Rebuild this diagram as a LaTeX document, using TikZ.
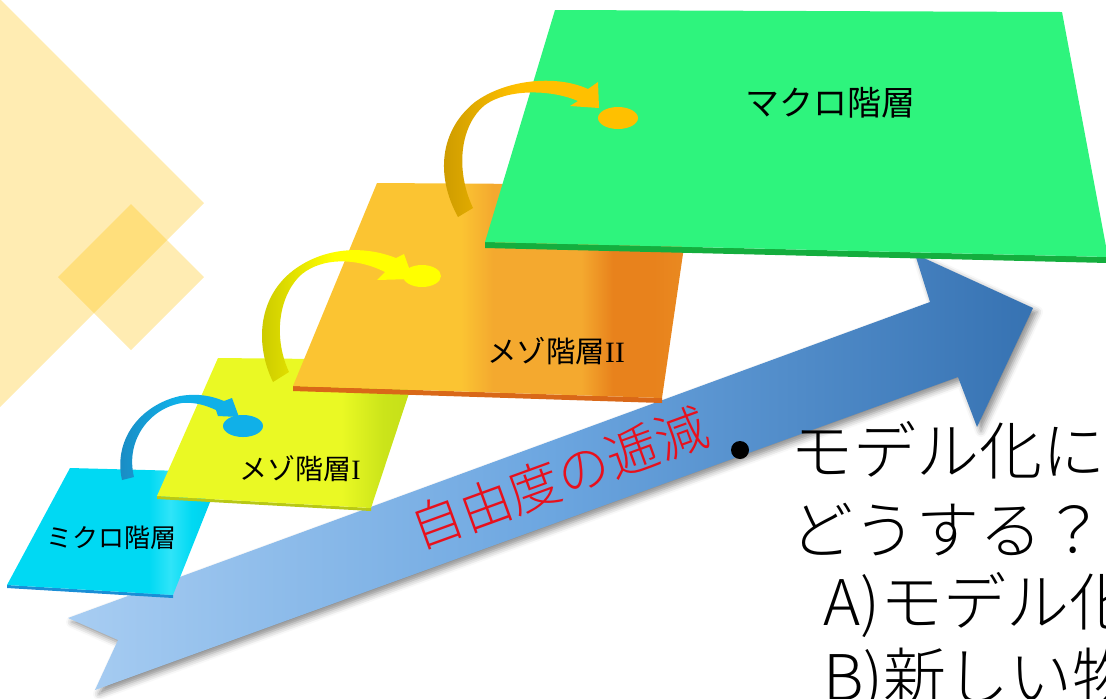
\documentclass[tikz,border=0pt]{standalone}
\usepackage{fontspec}
\usetikzlibrary{shadows.blur}
\newfontfamily\jp{Noto Sans CJK JP}
\IfFontExistsTF{Noto Sans CJK JP Light}
  {\newfontfamily\jpthin{Noto Sans CJK JP Light}}
  {\newfontfamily\jpthin{Noto Sans CJK JP}}
\newfontfamily\romI{Liberation Serif}
\definecolor{diamond}{HTML}{FFC000}
\definecolor{arrowleft}{HTML}{A8CDF2}
\definecolor{arrowmid}{HTML}{6CA6E0}
\definecolor{arrowright}{HTML}{3672B2}
\definecolor{macro}{HTML}{2EF47D}
\definecolor{macroedge}{HTML}{14AE3E}
\definecolor{mesoIIa}{HTML}{FBC432}
\definecolor{mesoIIb}{HTML}{F4A92F}
\definecolor{mesoIIc}{HTML}{E8821C}
\definecolor{mesoIId}{HTML}{EA8C22}
\definecolor{mesoIIedge}{HTML}{D96818}
\definecolor{mesoIa}{HTML}{EAF924}
\definecolor{mesoIb}{HTML}{CBE41A}
\definecolor{mesoIc}{HTML}{C4DE17}
\definecolor{mesoIedge}{HTML}{B8C816}
\definecolor{microa}{HTML}{00D9F3}
\definecolor{microb}{HTML}{30E4F8}
\definecolor{microc}{HTML}{00CCEA}
\definecolor{microedge}{HTML}{1A8ED6}
\definecolor{bluehead}{HTML}{10B0E8}
\definecolor{bluetail}{HTML}{1B88C0}
\definecolor{yellowhead}{HTML}{FFFF00}
\definecolor{yellowtail}{HTML}{C8C600}
\definecolor{goldhead}{HTML}{FFC000}
\definecolor{goldtail}{HTML}{C89800}
\definecolor{redtext}{HTML}{E8101C}
\pgfdeclarehorizontalshading{mesoIIshade}{100bp}{color(0bp)=(mesoIIa); color(25bp)=(mesoIIa);
  color(46bp)=(mesoIIa); color(50bp)=(mesoIIb); color(61bp)=(mesoIIb); color(65bp)=(mesoIIc);
  color(70bp)=(mesoIIc); color(75bp)=(mesoIId); color(100bp)=(mesoIId)}
\pgfdeclarehorizontalshading{mesoIshade}{100bp}{color(0bp)=(mesoIa); color(25bp)=(mesoIa);
  color(60bp)=(mesoIa); color(68bp)=(mesoIb); color(75bp)=(mesoIc); color(100bp)=(mesoIc)}
\pgfdeclarehorizontalshading{microshade}{100bp}{color(0bp)=(microa); color(25bp)=(microa);
  color(58bp)=(microa); color(63bp)=(microb); color(68bp)=(microa); color(75bp)=(microc);
  color(100bp)=(microc)}
\begin{document}
\begin{tikzpicture}[x=0.5pt,y=-0.5pt,
  lbl/.style={inner sep=0pt,text=black},
  body/.style={inner sep=0pt,anchor=west,font=\jpthin\fontsize{31.5pt}{31.5pt}\selectfont}]
\useasboundingbox (0,0) rectangle (1106,698);
\clip (0,0) rectangle (1106,698);
\fill[diamond,opacity=0.3] (0,-1) -- (204,203) -- (0,407) -- (-204,203) -- cycle;
\fill[diamond,opacity=0.3] (131,204) -- (204,277) -- (131,350) -- (58,277) -- cycle;
\path[blur shadow={shadow xshift=2pt,shadow yshift=-2pt,shadow blur radius=3pt,shadow opacity=45},
  left color=arrowleft,right color=arrowright,middle color=arrowmid]
  (68,618) -- (930,302) -- (915,254) -- (1033,308) -- (977,427) -- (958,377) -- (95,690) -- (118,640) -- cycle;
\node[rotate=20,text=redtext,inner sep=0pt,font=\jpthin\fontsize{26pt}{26pt}\selectfont] (decr) at (559,478) {自由度の逓減};
\fill[microedge] (7,585) -- (173,595) -- (173,598) -- (7,588) -- cycle;
\shade[shading=microshade] (70,468) -- (222,472) -- (173,595) -- (7,585) -- cycle;
\node[lbl,font=\jp\fontsize{13pt}{13pt}\selectfont] (micro) at (111,538) {ミクロ階層};
\fill[mesoIedge] (157,496) -- (371,508) -- (371,511) -- (157,499) -- cycle;
\shade[shading=mesoIshade] (218,358) -- (420,360) -- (371,508) -- (157,496) -- cycle;
\node[lbl,font=\jp\fontsize{14pt}{14pt}\selectfont] (mesoI) at (300,469) {メゾ階層{\romI I}};
\shade[left color=bluetail,right color=bluehead,middle color=bluehead]
  (122,480) .. controls (113,440) and (140,405) .. (180,396) .. controls (198,393) and (212,396) .. (224,401)
  -- (232,398) -- (239,417) -- (218,416) -- (216,410)
  .. controls (205,405) and (195,402) .. (182,403) .. controls (150,408) and (125,440) .. (134,477) -- cycle;
\fill[bluehead] (243,426) ellipse [x radius=20,y radius=11];
\fill[mesoIIedge] (293,386) -- (662,398) -- (662,403) -- (293,391) -- cycle;
\shade[shading=mesoIIshade] (377,183) -- (693,185) -- (662,398) -- (293,386) -- cycle;
\node[lbl,font=\jp\fontsize{14.75pt}{14.75pt}\selectfont] (mesoII) at (556,351) {メゾ階層{\romI II}};
\shade[left color=yellowtail,right color=yellowhead,middle color=yellowhead]
  (273,382) .. controls (255,345) and (258,300) .. (290,273) .. controls (315,252) and (355,242) .. (396,258)
  -- (404,254) -- (413,279) -- (377,280) -- (385,272)
  .. controls (355,257) and (322,258) .. (302,274) .. controls (280,293) and (272,335) .. (289,372) -- cycle;
\fill[yellowhead] (422,276) ellipse [x radius=19,y radius=11];
\fill[macroedge] (485,242) -- (1108,257) -- (1108,263) -- (485,248) -- cycle;
\fill[macro] (555,10) -- (1062,12) -- (1108,257) -- (485,242) -- cycle;
\node[lbl,font=\jp\fontsize{17pt}{17pt}\selectfont] (macrolbl) at (830,103) {マクロ階層};
\shade[left color=goldtail,right color=goldhead,middle color=goldhead]
  (458,217) .. controls (435,175) and (440,130) .. (475,102) .. controls (505,80) and (555,74) .. (588,89)
  -- (598,82) -- (599,108) -- (570,106) -- (578,101)
  .. controls (550,89) and (507,89) .. (485,105) .. controls (460,125) and (455,170) .. (473,208) -- cycle;
\fill[goldhead] (618,118) ellipse [x radius=20,y radius=11];
\node[circle,fill=black,inner sep=0pt,minimum size=9pt] (bullet) at (740,450) {};
\node[body] (q1) at (790,450) {モデル化に};
\node[body] (q2) at (790,530) {どうする？};
\node[body] (qa) at (823,605) {A)モデル化};
\node[body] (qb) at (823,680) {B)新しい物};
\end{tikzpicture}
\end{document}
